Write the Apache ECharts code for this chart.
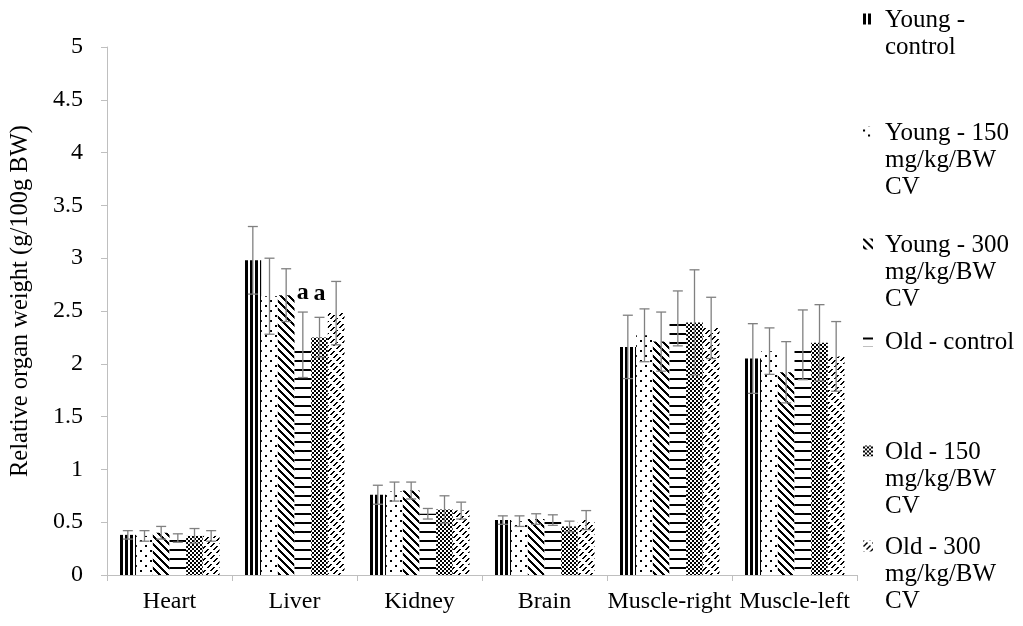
<!DOCTYPE html>
<html><head><meta charset="utf-8">
<script src="https://cdn.jsdelivr.net/npm/echarts@6/dist/echarts.min.js"></script>
<style>html,body{margin:0;padding:0;background:#fff}#c{width:1023px;height:626px}</style>
</head><body><div id="c"></div>
<script>
// ---------- DATA ----------
const categories = ['Heart', 'Liver', 'Kidney', 'Brain', 'Muscle-right', 'Muscle-left'];
const seriesNames = ['Young - control', 'Young - 150 mg/kg/BW CV', 'Young - 300 mg/kg/BW CV',
                     'Old - control', 'Old - 150 mg/kg/BW CV', 'Old - 300 mg/kg/BW CV'];
const legendLabels = ['Young -\ncontrol', 'Young - 150\nmg/kg/BW\nCV', 'Young - 300\nmg/kg/BW\nCV',
                      'Old - control', 'Old - 150\nmg/kg/BW\nCV', 'Old - 300\nmg/kg/BW\nCV'];

const youngControl    = [0.38, 2.98, 0.76, 0.52, 2.16, 2.05];
const youngControlErr = [0.04, 0.32, 0.09, 0.04, 0.30, 0.33];
const young150        = [0.37, 2.64, 0.79, 0.51, 2.27, 2.12];
const young150Err     = [0.05, 0.36, 0.09, 0.05, 0.25, 0.22];
const young300        = [0.40, 2.65, 0.80, 0.53, 2.21, 1.92];
const young300Err     = [0.06, 0.25, 0.08, 0.05, 0.28, 0.29];
const oldControl      = [0.35, 2.18, 0.58, 0.52, 2.43, 2.18];
const oldControlErr   = [0.04, 0.31, 0.05, 0.05, 0.26, 0.33];
const old150          = [0.37, 2.25, 0.62, 0.46, 2.39, 2.20];
const old150Err       = [0.07, 0.19, 0.13, 0.05, 0.50, 0.36];
const old300          = [0.37, 2.48, 0.61, 0.52, 2.34, 2.07];
const old300Err       = [0.05, 0.30, 0.08, 0.09, 0.29, 0.33];

const oldControlLetters = ['', 'a', '', '', '', ''];
const old150Letters     = ['', 'a', '', '', '', ''];

const yMin = 0, yMax = 5, yInterval = 0.5;
const yAxisTitle = 'Relative organ weight (g/100g BW)';

// ---------- STYLE ----------
const FONT = '"Liberation Serif", "Times New Roman", serif';
function makePattern(w, h, fn) {
  const c = document.createElement('canvas');
  c.width = w; c.height = h;
  const ctx = c.getContext('2d');
  const img = ctx.createImageData(w, h);
  for (let y = 0; y < h; y++) for (let x = 0; x < w; x++) {
    const i = (y * w + x) * 4, v = fn(x, y) ? 0 : 255;
    img.data[i] = v; img.data[i + 1] = v; img.data[i + 2] = v; img.data[i + 3] = 255;
  }
  ctx.putImageData(img, 0, 0);
  return { image: c, repeat: 'repeat' };
}
const patterns = [
  makePattern(5, 1, (x) => x < 3),
  makePattern(10, 10, (x, y) => (x < 2 && y < 2) || (x >= 5 && x < 7 && y >= 5 && y < 7)),
  makePattern(8, 8, (x, y) => (((x - y) % 8) + 8) % 8 < 3),
  makePattern(1, 9, (x, y) => y < 2),
  makePattern(4, 4, (x, y) => ((x >> 1) + (y >> 1)) % 2 === 0),
  makePattern(12, 12, (x, y) => (x + y) % 6 < 2 && (((x - y) % 12) + 12) % 12 < 8)
];

const values = [youngControl, young150, young300, oldControl, old150, old300];
const errors = [youngControlErr, young150Err, young300Err, oldControlErr, old150Err, old300Err];
const letters = [null, null, null, oldControlLetters, old150Letters, null];
const letterDistance = [0, 0, 0, 40, 32, 0];
const N = values.length;

const barSeries = values.map((vals, s) => ({
  name: seriesNames[s],
  type: 'bar',
  barGap: '0%',
  barCategoryGap: '20%',
  itemStyle: { color: patterns[s], borderWidth: 0 },
  emphasis: { disabled: true },
  data: vals.map((v, i) => {
    const L = letters[s] && letters[s][i];
    if (!L) return v;
    return {
      value: v,
      label: { show: true, position: 'top', formatter: L, distance: letterDistance[s],
               fontFamily: FONT, fontSize: 24, fontWeight: 'bold', color: '#000' }
    };
  })
}));

function errRender(s) {
  return function (params, api) {
    const ci = api.value(0), v = api.value(1), e = api.value(2);
    const band = api.size([1, 0])[0];
    const barW = band * 0.8 / N;
    const base = api.coord([ci, v]);
    const cx = base[0] - band * 0.4 + barW * (s + 0.5);
    const yT = api.coord([ci, v + e])[1], yB = api.coord([ci, v - e])[1];
    const cap = 5;
    const st = { stroke: '#808080', lineWidth: 1.3 };
    return { type: 'group', children: [
      { type: 'line', shape: { x1: cx, y1: yT, x2: cx, y2: yB }, style: st },
      { type: 'line', shape: { x1: cx - cap, y1: yT, x2: cx + cap, y2: yT }, style: st },
      { type: 'line', shape: { x1: cx - cap, y1: yB, x2: cx + cap, y2: yB }, style: st }
    ]};
  };
}
const errSeries = values.map((vals, s) => ({
  name: 'err' + s,
  type: 'custom',
  z: 5,
  silent: true,
  renderItem: errRender(s),
  encode: { x: 0, y: 1 },
  data: vals.map((v, i) => [i, v, errors[s][i]])
}));

const legendTops = [6.5, 119.5, 231.5, 328.5, 438.5, 533.5];
const LH = 27;
const legends = seriesNames.map((nm, s) => {
  const lines = legendLabels[s].split('\n').length;
  const h = lines * LH;
  return {
    data: [nm],
    left: 863, top: legendTops[s], padding: 0,
    orient: 'vertical',
    itemWidth: 17, itemHeight: h,
    icon: `path://M0,0L0,0.01M0,7H10V18H0ZM17,${h}L17,${h - 0.01}`,
    itemStyle: { borderWidth: 0 },
    selectedMode: false,
    formatter: () => legendLabels[s],
    textStyle: { fontFamily: FONT, fontSize: 25, lineHeight: LH, color: '#000' }
  };
});

const chart = echarts.init(document.getElementById('c'), null, { renderer: 'canvas' });
chart.setOption({
  animation: false,
  backgroundColor: '#fff',
  grid: { left: 107, right: 166, top: 47, bottom: 51, containLabel: false },
  legend: legends,
  xAxis: {
    type: 'category',
    data: categories,
    axisLine: { lineStyle: { color: '#bfbfbf', width: 1 } },
    axisTick: { show: true, alignWithLabel: false, length: 6, lineStyle: { color: '#bfbfbf' } },
    axisLabel: { fontFamily: FONT, fontSize: 24, color: '#000', margin: 15, interval: 0 },
    splitLine: { show: false }
  },
  yAxis: {
    type: 'value',
    min: yMin, max: yMax, interval: yInterval,
    name: yAxisTitle,
    nameLocation: 'middle',
    nameGap: 74,
    nameTextStyle: { fontFamily: FONT, fontSize: 24.5, color: '#000', padding: [0, 0, 0, 20] },
    axisLine: { show: true, lineStyle: { color: '#bfbfbf', width: 1 } },
    axisTick: { show: true, length: 6, lineStyle: { color: '#bfbfbf' } },
    axisLabel: { fontFamily: FONT, fontSize: 24, color: '#000', margin: 24 },
    splitLine: { show: false }
  },
  series: barSeries.concat(errSeries)
});
</script>
</body></html>
